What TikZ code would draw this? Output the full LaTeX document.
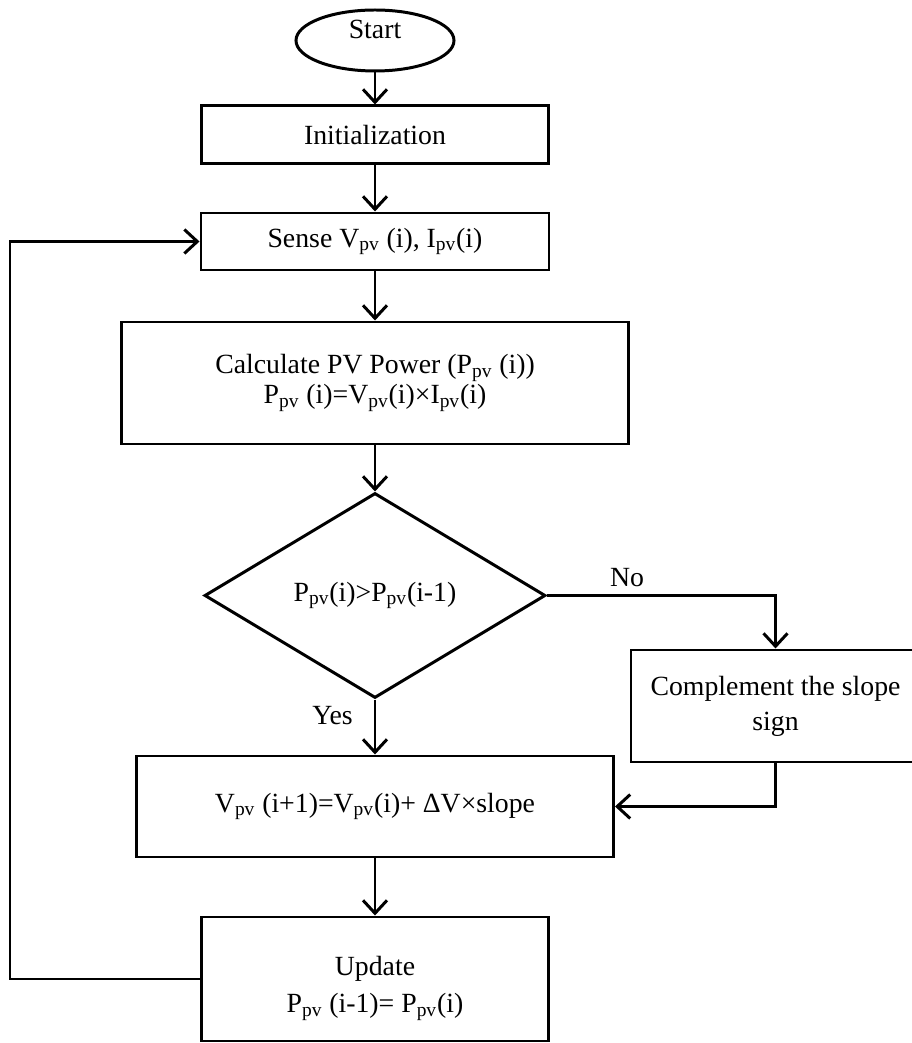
\documentclass[tikz,border=0pt]{standalone}
\usepackage{fontspec}
\setmainfont{Liberation Serif}
\usepackage{tikz}
\usetikzlibrary{arrows.meta,shapes.geometric}
\def\pvsub{\textsubscript{pv}}

\tikzset{
	line/.style={line width=1.7pt, -{Straight Barb[length=2.6mm, width=4.8mm, line width=1.7pt]}},
	block/.style={draw, line width=1.7pt, rectangle, inner sep=0pt, align=center},
	term/.style={draw, line width=1.7pt, ellipse, inner sep=0pt},
	decide/.style={draw, line width=1.7pt, diamond, inner sep=0pt}
}

\begin{document}
\begin{tikzpicture}[font=\fontsize{15.8}{17}\selectfont]
		%%%%% START %%%%%
		\useasboundingbox (0, 0) rectangle (18.24, 20.86);
		
		\node[term, minimum width=3.16cm, minimum height=1.22cm] (start) at (7.50, 20.05) {\raisebox{2.3mm}[\height][\depth]{Start}};
		\node[block, minimum width=6.94cm, minimum height=1.16cm] (init) at (7.50, 18.16) {Initialization};
		\node[block, minimum width=6.96cm, minimum height=1.14cm] (sense) at (7.50, 16.03) {Sense V\pvsub{} (i), I\pvsub(i)};
		\node[block, minimum width=10.14cm, minimum height=2.44cm] (calc) at (7.50, 13.20) {Calculate PV Power (P\pvsub{} (i))\\P\pvsub{} (i)=V\pvsub(i)×I\pvsub(i)};
		\node[decide, minimum width=6.82cm, minimum height=4.10cm] (dec) at (7.50, 8.95) {P\pvsub(i)>P\pvsub(i-1)};
		\node[block, minimum width=5.78cm, minimum height=2.24cm] (compl) at (15.51, 6.74) {Complement the slope\\[1mm]sign};
		\node[block, minimum width=9.54cm, minimum height=2.02cm] (vnew) at (7.50, 4.73) {V\pvsub{} (i+1)=V\pvsub(i)+ ΔV×slope};
		\node[block, minimum width=6.94cm, minimum height=2.48cm] (upd) at (7.50, 1.28) {\raisebox{-1.8mm}[\height][\depth]{\begin{tabular}{c}Update\\[1.5mm]P\pvsub{} (i-1)= P\pvsub(i)\end{tabular}}};
		
		\coordinate (back) at (0.20, 0);
		
		\draw[line] (start) -- (init);
		\draw[line] (init) -- (sense);
		\draw[line] (sense) -- (calc);
		\draw[line] (calc) -- (dec);
		\draw[line] (dec) -- node[pos=0.3, left=0.3cm] {Yes} (vnew);
		\draw[line] (dec.east) -| node[pos=0.175, above=1pt] {No} (compl.north);
		\draw[line] (compl.south) |- (vnew.east);
		\draw[line] (vnew) -- (upd);
		
		% loop back
		\draw[line] (upd.west) -- (upd.west -| back) |- (sense.west);
		%%%%% END %%%%%
	\end{tikzpicture}
\end{document}
